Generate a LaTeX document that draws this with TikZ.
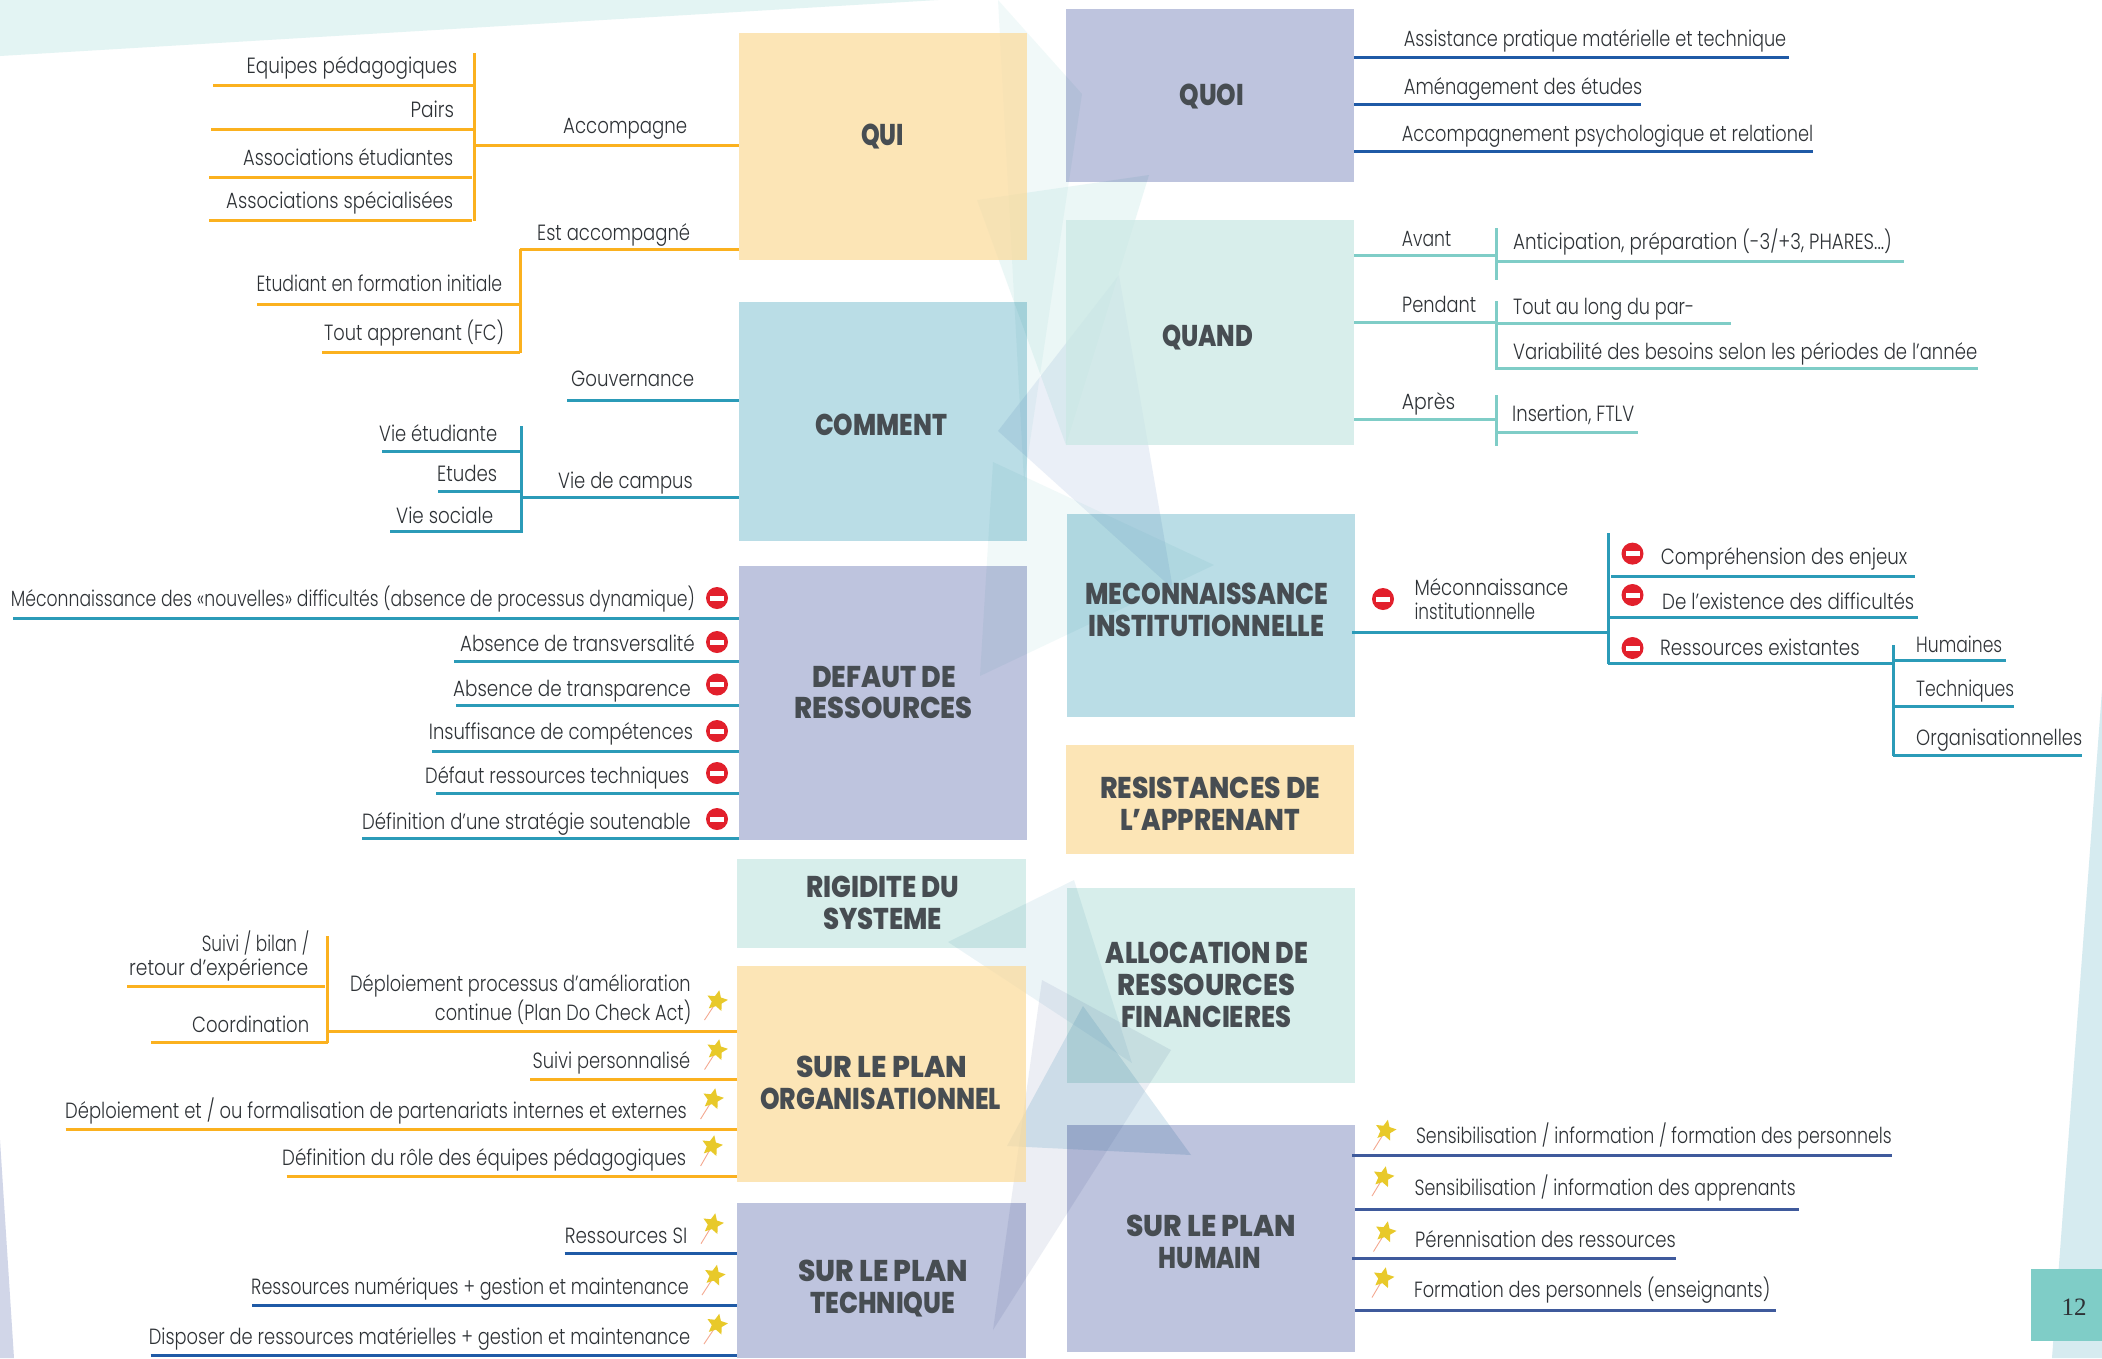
\documentclass[tikz,border=0pt]{standalone}
\usepackage{fontspec}
\usepackage{graphicx}
\usetikzlibrary{shapes.geometric}
\newfontfamily\labf{Poppins Light}
\newfontfamily\ttlf{Poppins}[BoldFont=* ExtraBold]
\newfontfamily\numf{Liberation Serif}
\definecolor{orangeL}{HTML}{FBB11F}
\definecolor{tealL}{HTML}{2B9BB8}
\definecolor{blueL}{HTML}{1F5AA6}
\definecolor{turqL}{HTML}{7FCDC7}
\definecolor{navyL}{HTML}{3F5A9C}
\definecolor{boxO}{RGB}{251,219,155}
\definecolor{boxT}{HTML}{BADDE6}
\definecolor{boxV}{HTML}{BEC4DE}
\definecolor{boxQ}{HTML}{D7EEEB}
\definecolor{boxQs}{RGB}{202,232,228}
\definecolor{txtD}{HTML}{2E3236}
\definecolor{ttlD}{HTML}{474D52}
\definecolor{starY}{HTML}{E8C92A}
\definecolor{wandC}{HTML}{F4A890}
\definecolor{redN}{HTML}{E2202C}
\definecolor{triC}{RGB}{127,160,208}
\definecolor{triE}{RGB}{95,168,192}
\definecolor{triF}{RGB}{112,128,176}
\definecolor{triG}{RGB}{94,157,192}
\tikzset{
  panel/.style={anchor=north west,inner sep=0pt,draw=none},
  lab/.style={anchor=base west,inner sep=0pt,text=txtD,font=\labf\fontsize{22}{22}\selectfont},
  ttl/.style={anchor=base west,inner sep=0pt,text=ttlD,font=\ttlf\bfseries\fontsize{30}{30}\selectfont},
  lnk/.style={line width=3pt},
  wand/.style={draw=wandC,line width=0.9pt},
  wishstar/.style={star,star points=5,star point ratio=2.1,minimum size=22pt,inner sep=0pt,fill=starY,rotate=-12},
  noentry/.style={circle,minimum size=22pt,inner sep=0pt,fill=redN,
    path picture={\fill[white] ([xshift=-7pt,yshift=-2.5pt]path picture bounding box.center) rectangle ([xshift=7pt,yshift=2.5pt]path picture bounding box.center);}},
}
\newcommand\panelbox[6]{\node[panel,fill=#2,minimum width=#5pt,minimum height=#6pt] (#1) at (#3,#4) {};}
\newcommand\softbox[6]{\node[panel,fill=#2,fill opacity=.72,minimum width=#5pt,minimum height=#6pt] (#1) at (#3,#4) {};}
\newcommand\lab[5]{\node[lab] (#1) at (#2,#4) {\resizebox{#3pt}{\height}{#5}};}
\newcommand\ttl[5]{\node[ttl] (#1) at (#2,#4+10.5) {\resizebox{#3pt}{\height}{#5}};}
\newcommand\hl[5]{\coordinate (#2a) at (#3,#5); \coordinate (#2b) at (#4,#5); \draw[lnk,draw=#1] (#2a) -- (#2b);}
\newcommand\vl[5]{\coordinate (#2a) at (#3,#4); \coordinate (#2b) at (#3,#5); \draw[lnk,draw=#1] (#2a) -- (#2b);}
\newcommand\noent[3]{\node[noentry] (#1) at (#2,#3) {};}
\newcommand\wish[5]{\coordinate (#1c) at (#2,#3); \coordinate (#1e) at (#4,#5); \draw[wand] (#1c) -- (#1e); \node[wishstar] (#1) at (#1c) {};}
\begin{document}
\begin{tikzpicture}[x=1pt,y=-1pt]
\useasboundingbox (0,0) rectangle (2102,1358);
\fill[white] (0,0) rectangle (2102,1358);
% page background shapes
\fill[fill=turqL!22] (0,0) -- (938,0) -- (0,56) -- cycle;
\fill[fill=boxV!70] (0,1140) -- (14,1358) -- (0,1358) -- cycle;
\fill[fill=boxT!60] (2102,690) -- (2052,1358) -- (2102,1358) -- cycle;
% translucent triangles under the panels
\fill[fill=turqL,fill opacity=.10] (998,0) -- (1082,94) -- (1024,482) -- cycle;
\fill[fill=turqL,fill opacity=.15] (977,200) -- (1149,175) -- (1066,445) -- cycle;
\fill[fill=triC,fill opacity=.16] (1119,275) -- (998,431) -- (1173,589) -- cycle;
\fill[fill=turqL,fill opacity=.10] (993,462) -- (1214,565) -- (980,676) -- cycle;
\fill[fill=triE,fill opacity=.12] (1074,880) -- (948,942) -- (1132,1063) -- cycle;
\fill[fill=triF,fill opacity=.13] (1042,980) -- (1171,1050) -- (993,1330) -- cycle;
\fill[fill=triG,fill opacity=.22] (1083,1006) -- (1007,1146) -- (1191,1155) -- cycle;
% panels
\softbox{qui}{boxO}{739}{33}{288}{227}
\softbox{orga}{boxO}{737}{966}{288.5}{216}
\softbox{resist}{boxO}{1066}{745}{288}{109}
\softbox{quand}{boxQs}{1066}{220}{288}{225}
\begin{scope}[blend mode=multiply]
\panelbox{comment}{boxT}{739}{302}{288}{239}
\panelbox{defaut}{boxV}{739}{566}{288}{274}
\panelbox{rigid}{boxQ}{737}{859}{288.5}{89}
\panelbox{tech}{boxV}{737}{1203}{288.5}{155}
\panelbox{quoi}{boxV}{1066}{9}{288}{173}
\panelbox{mecon}{boxT}{1067}{514}{288}{203}
\panelbox{alloc}{boxQ}{1067}{888}{288}{195}
\panelbox{humain}{boxV}{1067}{1125}{288}{227}
\end{scope}
\node[panel,fill=turqL,minimum width=71pt,minimum height=72pt] (pagebox) at (2031,1269) {};
% titles
\ttl{tqui}{861}{43}{135}{QUI}
\ttl{tcomment}{815}{132}{425}{COMMENT}
\ttl{tdef}{812}{144}{677}{DEFAUT DE}
\ttl{tres}{794}{178.5}{707.5}{RESSOURCES}
\ttl{trig}{806}{153}{887}{RIGIDITE DU}
\ttl{tsys}{823}{119}{919}{SYSTEME}
\ttl{tsur}{796}{171}{1067}{SUR LE PLAN}
\ttl{torg}{760}{241}{1098.7}{ORGANISATIONNEL}
\ttl{tsurb}{798}{170}{1271}{SUR LE PLAN}
\ttl{ttech}{810}{145}{1302.6}{TECHNIQUE}
\ttl{tquoi}{1179.5}{64.5}{95}{QUOI}
\ttl{tquand}{1162}{91}{336}{QUAND}
\ttl{tmec}{1085}{243}{594}{MECONNAISSANCE}
\ttl{tinst}{1088}{236}{626}{INSTITUTIONNELLE}
\ttl{trst}{1100}{220}{788}{RESISTANCES DE}
\ttl{tapp}{1120}{180}{820}{L’APPRENANT}
\ttl{tall}{1105.7}{202}{953}{ALLOCATION DE}
\ttl{tres2}{1117}{178}{985}{RESSOURCES}
\ttl{tfin}{1121}{170}{1016.7}{FINANCIERES}
\ttl{tsurc}{1126}{170}{1226}{SUR LE PLAN}
\ttl{thum}{1158.7}{102}{1258}{HUMAIN}
% QUI
\vl{orangeL}{q0}{474}{53}{221}
\hl{orangeL}{q1}{213}{474}{85}
\hl{orangeL}{q2}{211}{474}{129}
\hl{orangeL}{q3}{209}{472}{177}
\hl{orangeL}{q4}{209}{472}{220}
\hl{orangeL}{q5}{474}{739}{145}
\hl{orangeL}{q6}{520}{739}{249}
\vl{orangeL}{q7}{520}{249}{353}
\hl{orangeL}{q8}{257}{520}{304}
\hl{orangeL}{q9}{322}{520}{352}
\lab{l1}{246.5}{210.5}{73}{Equipes pédagogiques}
\lab{l2}{410.5}{43.5}{117}{Pairs}
\lab{l3}{243}{210}{165}{Associations étudiantes}
\lab{l4}{226}{227}{208}{Associations spécialisées}
\lab{l5}{563}{124}{133}{Accompagne}
\lab{l6}{537}{153}{240}{Est accompagné}
\lab{l7}{256.5}{245.5}{291}{Etudiant en formation initiale}
\lab{l8}{324}{180}{340}{Tout apprenant (FC)}
% COMMENT
\hl{tealL}{c1}{567}{739}{400}
\hl{tealL}{c2}{521}{739}{497.5}
\vl{tealL}{c3}{521}{426}{533}
\hl{tealL}{c4}{382}{521}{451}
\hl{tealL}{c5}{438}{521}{491}
\hl{tealL}{c6}{390}{521}{531}
\lab{l9}{571}{123}{386}{Gouvernance}
\lab{l10}{379}{118}{441}{Vie étudiante}
\lab{l11}{437}{60}{481}{Etudes}
\lab{l12}{396}{97}{523}{Vie sociale}
\lab{l13}{558}{134.5}{488}{Vie de campus}
% DEFAUT
\hl{tealL}{d1}{13}{739}{618}
\hl{tealL}{d2}{454}{739}{661}
\hl{tealL}{d3}{456}{739}{705}
\hl{tealL}{d4}{432}{739}{751}
\hl{tealL}{d5}{436}{739}{793}
\hl{tealL}{d6}{362}{739}{838}
\lab{m1}{10.7}{684}{606}{Méconnaissance des «nouvelles» difficultés (absence de processus dynamique)}
\lab{m2}{460}{234.6}{651}{Absence de transversalité}
\lab{m3}{453}{237.5}{696}{Absence de transparence}
\lab{m4}{428.7}{264}{739}{Insuffisance de compétences}
\lab{m5}{425}{264}{783.6}{Défaut ressources techniques}
\lab{m6}{362}{328.5}{829}{Définition d’une stratégie soutenable}
\noent{n1}{717}{598}
\noent{n2}{717}{642}
\noent{n3}{717}{684.5}
\noent{n4}{717}{731}
\noent{n5}{717}{773}
\noent{n6}{717}{819}
% ORGANISATIONNEL
\vl{orangeL}{o0}{327.5}{936}{1043}
\hl{orangeL}{o1}{127}{325}{986.5}
\hl{orangeL}{o2}{151}{327.5}{1042}
\hl{orangeL}{o3}{327.5}{737}{1031}
\hl{orangeL}{o4}{530}{737}{1079}
\hl{orangeL}{o5}{65.6}{737}{1129}
\hl{orangeL}{o6}{286.7}{737}{1176}
\lab{p1}{201.6}{107.4}{951}{Suivi / bilan /}
\lab{p2}{129}{179}{975}{retour d’expérience}
\lab{p3}{192}{117}{1032}{Coordination}
\lab{p4}{350}{340.5}{991}{Déploiement processus d’amélioration}
\lab{p5}{434.7}{256.3}{1020}{continue (Plan Do Check Act)}
\lab{p6}{532.5}{157.5}{1068}{Suivi personnalisé}
\lab{p7}{65}{621.5}{1118.5}{Déploiement et / ou formalisation de partenariats internes et externes}
\lab{p8}{282}{404}{1165.5}{Définition du rôle des équipes pédagogiques}
\wish{s1}{717}{1001}{704.5}{1020}
\wish{s2}{717}{1050}{704.6}{1069.5}
\wish{s3}{713}{1099}{700.6}{1119}
\wish{s4}{712}{1146}{700.6}{1166}
% TECHNIQUE
\hl{blueL}{t1}{564.6}{737}{1253.6}
\hl{blueL}{t2}{252}{737}{1305}
\hl{blueL}{t3}{150.7}{737}{1355}
\lab{r1}{564.6}{122.4}{1243}{Ressources SI}
\lab{r2}{251}{437.5}{1294}{Ressources numériques + gestion et maintenance}
\lab{r3}{148.7}{541.3}{1344}{Disposer de ressources matérielles + gestion et maintenance}
\wish{s5}{713}{1224}{701}{1243.7}
\wish{s6}{714.7}{1275.5}{702}{1295}
\wish{s7}{717}{1324.5}{704}{1344}
% QUOI
\hl{blueL}{u1}{1354}{1789}{57}
\hl{blueL}{u2}{1354}{1641}{104.6}
\hl{blueL}{u3}{1354}{1813}{151}
\lab{a1}{1403.7}{382.3}{46}{Assistance pratique matérielle et technique}
\lab{a2}{1403.7}{238.3}{94}{Aménagement des études}
\lab{a3}{1401.7}{411.3}{141}{Accompagnement psychologique et relationel}
% QUAND
\hl{turqL}{v1}{1354}{1496}{255}
\vl{turqL}{v2}{1496}{228}{280}
\hl{turqL}{v3}{1496}{1904}{261}
\hl{turqL}{v4}{1354}{1496}{322.5}
\vl{turqL}{v5}{1496}{301}{369.6}
\hl{turqL}{v6}{1496}{1731}{323}
\hl{turqL}{v7}{1496}{1977.5}{368}
\hl{turqL}{v8}{1354}{1496}{419.6}
\vl{turqL}{v9}{1496}{395}{446}
\hl{turqL}{v10}{1496}{1638}{432}
\lab{b1}{1401.7}{49.3}{246.5}{Avant}
\lab{b2}{1513}{378.6}{249}{Anticipation, préparation (-3/+3, PHARES...)}
\lab{b3}{1402}{74}{312.5}{Pendant}
\lab{b4}{1513}{181}{314}{Tout au long du par-}
\lab{b5}{1513}{464}{359}{Variabilité des besoins selon les périodes de l’année}
\lab{b6}{1401.7}{53.3}{409.6}{Après}
\lab{b7}{1512}{122}{421}{Insertion, FTLV}
% MECONNAISSANCE
\hl{tealL}{w1}{1352}{1607}{632}
\vl{tealL}{w2}{1608.4}{533}{664}
\hl{tealL}{w3}{1611}{1915}{576}
\hl{tealL}{w4}{1608}{1918}{617.7}
\hl{tealL}{w5}{1608}{1893}{663}
\vl{tealL}{w6}{1893}{645}{755.6}
\hl{tealL}{w7}{1893}{2006}{660}
\hl{tealL}{w8}{1893}{2013.8}{706}
\hl{tealL}{w9}{1893}{2082}{755}
\lab{e1}{1414.4}{153.6}{595}{Méconnaissance}
\lab{e2}{1414.4}{120.6}{619}{institutionnelle}
\lab{e3}{1660.7}{246.3}{564.6}{Compréhension des enjeux}
\lab{e4}{1662}{252}{609.5}{De l’existence des difficultés}
\lab{e5}{1660}{199.4}{655.5}{Ressources existantes}
\lab{e6}{1916}{86}{652.7}{Humaines}
\lab{e7}{1916}{98}{696.5}{Techniques}
\lab{e8}{1916}{166}{745}{Organisationnelles}
\noent{n7}{1383}{599}
\noent{n8}{1632.5}{553.6}
\noent{n9}{1632.5}{595}
\noent{n10}{1632.5}{648}
% HUMAIN
\hl{navyL}{h1}{1352}{1891.6}{1155.7}
\hl{navyL}{h2}{1355}{1799}{1209}
\hl{navyL}{h3}{1352}{1675.5}{1258}
\hl{navyL}{h4}{1355}{1776}{1310.6}
\lab{f1}{1415.8}{475.8}{1143}{Sensibilisation / information / formation des personnels}
\lab{f2}{1414.4}{381.2}{1195}{Sensibilisation / information des apprenants}
\lab{f3}{1415}{260.5}{1247}{Pérennisation des ressources}
\lab{f4}{1413.8}{356.2}{1297.5}{Formation des personnels (enseignants)}
\wish{s8}{1385.6}{1130.5}{1373.5}{1150}
\wish{s9}{1383.5}{1177}{1372}{1196}
\wish{s10}{1385.6}{1232}{1373.5}{1251.5}
\wish{s11}{1383.5}{1278}{1372}{1297.5}
% page number
\node[inner sep=0pt,text=txtD,font=\numf\fontsize{25}{25}\selectfont] (pnum) at (2074,1307) {12};
\end{tikzpicture}
\end{document}
